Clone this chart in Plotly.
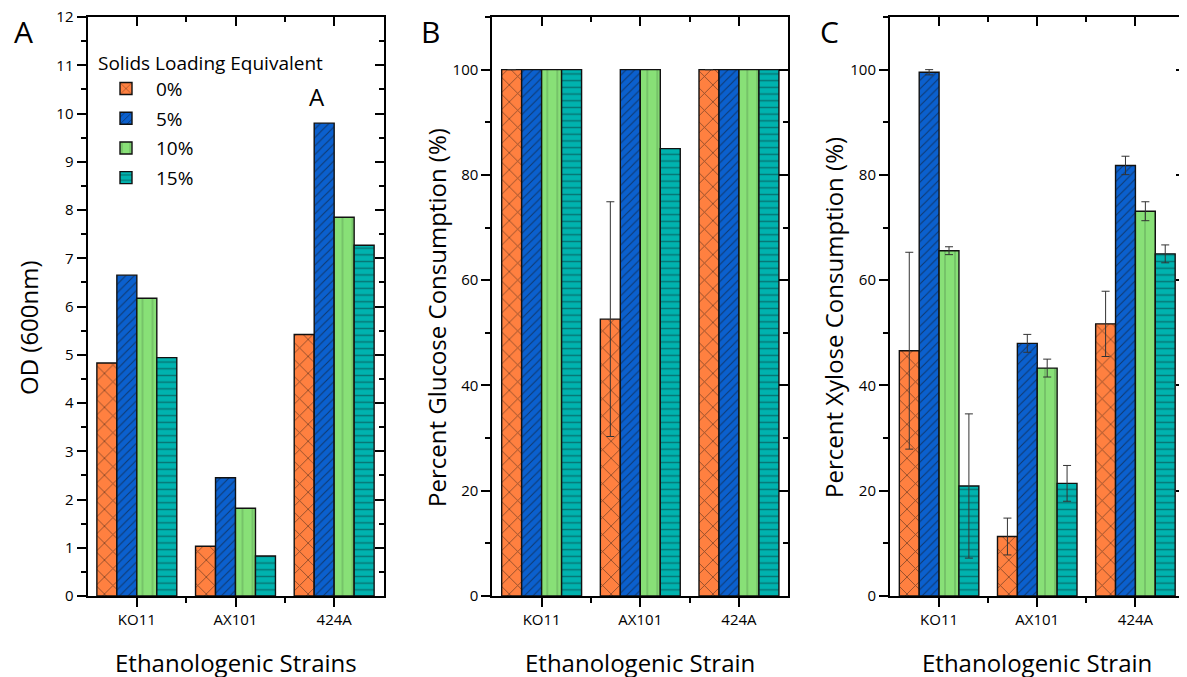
import plotly.graph_objects as go

# ---------------- data ----------------
strains = ["KO11", "AX101", "424A"]
series = ["0%", "5%", "10%", "15%"]

od_0 = [4.83, 1.03, 5.42]
od_5 = [6.65, 2.45, 9.80]
od_10 = [6.17, 1.82, 7.85]
od_15 = [4.94, 0.83, 7.27]

glu_0 = [100, 52.6, 100]
glu_5 = [100, 100, 100]
glu_10 = [100, 100, 100]
glu_15 = [100, 85.0, 100]
glu_0_err = [0, 22.3, 0]

xyl_0 = [46.6, 11.3, 51.7]
xyl_5 = [99.5, 48.0, 81.8]
xyl_10 = [65.6, 43.3, 73.1]
xyl_15 = [20.9, 21.4, 65.0]
xyl_0_err = [18.7, 3.5, 6.2]
xyl_5_err = [0.5, 1.7, 1.75]
xyl_10_err = [0.75, 1.7, 1.8]
xyl_15_err = [13.7, 3.4, 1.7]

# ---------------- styles ----------------
W, H = 1187, 677
OFF = 8  # page body margin offset
FONT = "Open Sans"
colors = ["#FF8040", "#0B60CE", "#88E077", "#00B3AF"]
patterns = [
    dict(shape="x", size=12, solidity=0.14, fgcolor="#111111"),
    dict(shape="/", size=6, solidity=0.18, fgcolor="#111111"),
    dict(shape="|", size=10, solidity=0.1, fgcolor="#3d6b3d"),
    dict(shape="-", size=6.7, solidity=0.22, fgcolor="#0b3a3a"),
]

def px_x(p):
    return (p - OFF) / W

def px_y(p):
    return 1 - (p - OFF) / H

Y_TOP, Y_BOT = 17, 596
panels_px = [(87.5, 383.5), (492.3, 788.3), (890.0, 1184.5)]

xpos = list(range(len(strains)))

fig = go.Figure()

panel_data = [
    ([od_0, od_5, od_10, od_15], [None, None, None, None]),
    ([glu_0, glu_5, glu_10, glu_15], [glu_0_err, None, None, None]),
    ([xyl_0, xyl_5, xyl_10, xyl_15], [xyl_0_err, xyl_5_err, xyl_10_err, xyl_15_err]),
]

for p, (vals, errs) in enumerate(panel_data):
    xa = "x" if p == 0 else f"x{p+1}"
    ya = "y" if p == 0 else f"y{p+1}"
    for s in range(4):
        err = errs[s]
        fig.add_trace(go.Bar(
            x=xpos, y=vals[s], name=series[s],
            xaxis=xa, yaxis=ya,
            legendgroup=series[s], showlegend=(p == 0),
            marker=dict(color=colors[s], line=dict(color="#111111", width=1.4),
                        pattern=patterns[s]),
            error_y=(dict(type="data", array=err, visible=True, color="#333333",
                          thickness=1, width=4) if err is not None else None),
        ))

axis_line = dict(showline=True, linecolor="black", linewidth=2, showgrid=False,
                 zeroline=False)

layout = dict(
    width=W, height=H, margin=dict(l=0, r=0, t=0, b=0, pad=0, autoexpand=False),
    paper_bgcolor="white", plot_bgcolor="white",
    barmode="group", bargap=0.19, bargroupgap=0,
    font=dict(family=FONT, color="black"),
    legend=dict(
        x=px_x(96), y=px_y(45), xanchor="left", yanchor="top",
        bgcolor="rgba(0,0,0,0)",
        title=dict(text="Solids Loading Equivalent", font=dict(size=19, family=FONT)),
        font=dict(size=19, family=FONT), tracegroupgap=2, itemwidth=50,
    ),
)

yranges = [[-0.0001, 12.0005], [0, 110], [0, 110]]
ydticks = [1, 20, 20]
yminor = [0.5, 10, 10]

for p in range(3):
    xs = "" if p == 0 else str(p + 1)
    x0, x1 = panels_px[p]
    dom_x = [px_x(x0), min(px_x(x1), 1.0)]
    dom_y = [px_y(Y_BOT), px_y(Y_TOP)]
    layout[f"xaxis{xs}"] = dict(
        domain=dom_x, anchor=f"y{xs}", range=[-0.5, 2.5],
        tickmode="array", tickvals=xpos, ticktext=strains,
        ticks="outside", ticklen=9, tickwidth=2, tickcolor="black",
        tickfont=dict(size=15, family=FONT), ticklabeloverflow="allow",
        minor=dict(tickmode="array", tickvals=[0.5, 1.5], ticks="outside",
                   ticklen=5, tickwidth=2, tickcolor="black"),
        **axis_line,
    )
    layout[f"yaxis{xs}"] = dict(
        domain=dom_y, anchor=f"x{xs}", range=yranges[p],
        tickmode="linear", tick0=0, dtick=ydticks[p],
        ticks="outside", ticklen=9, tickwidth=2, tickcolor="black",
        tickfont=dict(size=15, family=FONT), ticklabeloverflow="allow",
        minor=dict(dtick=yminor[p], tick0=0, ticks="outside", ticklen=5,
                   tickwidth=2, tickcolor="black"),
        **axis_line,
    )
    # mirrored axes with inside ticks (top / right)
    ox = str(p + 4)
    layout[f"xaxis{ox}"] = dict(
        domain=dom_x, anchor=f"y{xs}", overlaying=f"x{xs}", side="top",
        range=[-0.5, 2.5], tickmode="array", tickvals=xpos, showticklabels=False,
        ticks="inside", ticklen=9, tickwidth=2, tickcolor="black",
        minor=dict(tickmode="array", tickvals=[0.5, 1.5], ticks="inside",
                   ticklen=5, tickwidth=2, tickcolor="black"),
        **axis_line,
    )
    layout[f"yaxis{ox}"] = dict(
        domain=dom_y, anchor=f"x{xs}", overlaying=f"y{xs}", side="right",
        range=yranges[p], tickmode="linear", tick0=0, dtick=ydticks[p],
        showticklabels=False,
        ticks="inside", ticklen=9, tickwidth=2, tickcolor="black",
        minor=dict(dtick=yminor[p], tick0=0, ticks="inside", ticklen=5,
                   tickwidth=2, tickcolor="black"),
        **axis_line,
    )

fig.update_layout(**layout)

# invisible anchor traces so mirrored axes are drawn
for p in range(3):
    ox = str(p + 4)
    fig.add_trace(go.Scatter(x=[None], y=[None], xaxis=f"x{ox}", yaxis=f"y{ox}",
                             showlegend=False, hoverinfo="skip", mode="markers"))

ytitles = ["OD (600nm)", "Percent Glucose Consumption (%)", "Percent Xylose Consumption (%)"]
xtitles = ["Ethanologenic Strains", "Ethanologenic Strain", "Ethanologenic Strain"]
letters = ["A", "B", "C"]
ytitle_x = [28, 436, 833]
ytitle_y = [328, 318, 318]
letter_x = [23, 430, 829]

ann = []
for p in range(3):
    x0, x1 = panels_px[p]
    ann.append(dict(text=ytitles[p], x=px_x(ytitle_x[p]), y=px_y(ytitle_y[p]),
                    xref="paper", yref="paper", textangle=-90, showarrow=False,
                    font=dict(size=24, family=FONT), xanchor="center", yanchor="middle"))
    ann.append(dict(text=xtitles[p], x=px_x((x0 + x1) / 2), y=px_y(662),
                    xref="paper", yref="paper", showarrow=False,
                    font=dict(size=24, family=FONT), xanchor="center", yanchor="middle"))
    ann.append(dict(text=letters[p], x=px_x(letter_x[p]), y=px_y(31),
                    xref="paper", yref="paper", showarrow=False,
                    font=dict(size=30, family=FONT), xanchor="center", yanchor="middle"))

# significance letter above 424A 5% bar
ann.append(dict(text="A", x=2 - 0.405 + 0.2025 * 1.5, y=od_5[2], xref="x", yref="y",
                showarrow=False, yanchor="bottom", yshift=8, xshift=-7,
                font=dict(size=24, family=FONT)))
fig.update_layout(annotations=ann)

fig.write_html("out.html")
